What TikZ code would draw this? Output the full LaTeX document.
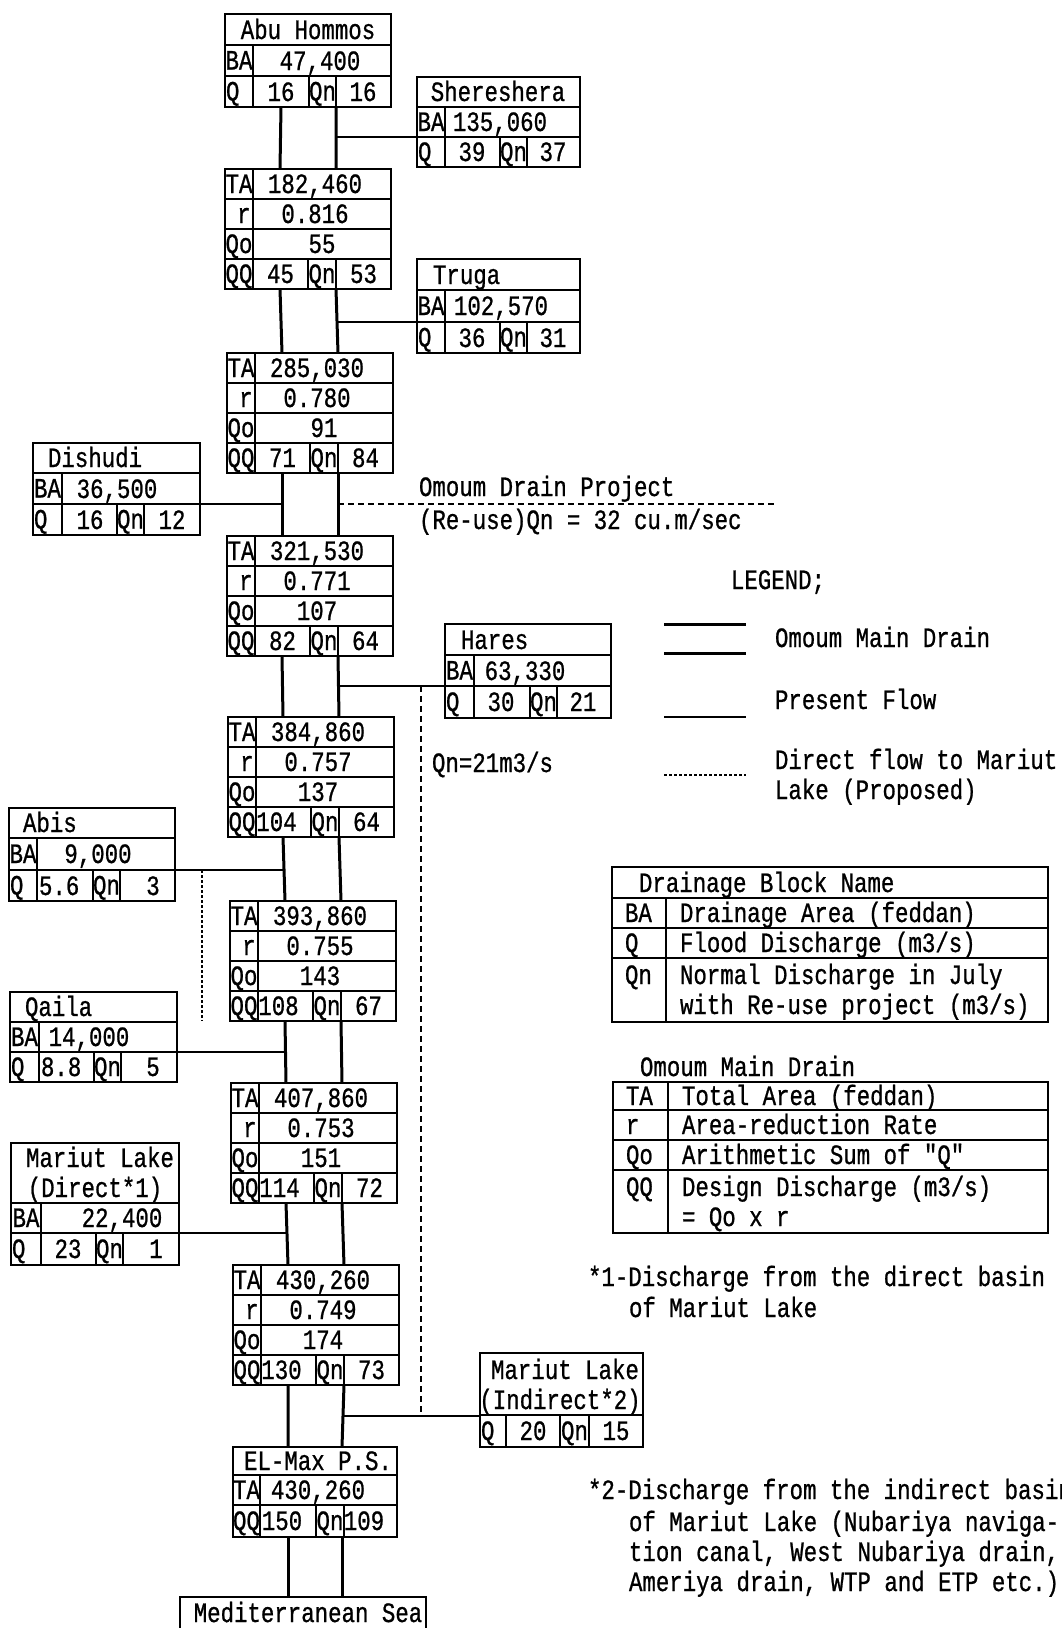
\documentclass[tikz,border=0pt]{standalone}
\usepackage{fontspec}
\newfontfamily\mfont{Liberation Mono}[FakeStretch=0.8, FakeBold=0.8]
\tikzset{
  every node/.style={font=\mfont\fontsize{28}{30}\selectfont},
  txt/.style={inner sep=0pt, outer sep=0pt, text height=18pt, text depth=0pt, anchor=center},
  txtw/.style={txt, anchor=west},
  mbox/.style={draw, line width=1.5pt, inner sep=0pt, outer sep=0pt, anchor=north west},
  bbox/.style={draw, line width=2.6pt, inner sep=0pt, outer sep=0pt, anchor=north west},
  tbox/.style={draw, line width=2.2pt, inner sep=0pt, outer sep=0pt, anchor=north west},
  gridl/.style={line width=1.1pt},
  mainline/.style={line width=3pt},
  flow/.style={line width=1.3pt},
  prop/.style={line width=1.2pt, dash pattern=on 6pt off 4pt},
  dotl/.style={line width=1.2pt, dash pattern=on 3pt off 2pt},
}
\newcommand{\mainbox}[8]{%
  \node[mbox, minimum width=166, minimum height=120] (#1) at (#2,#3) {};
  \draw[gridl] (#2,#3+30) -- (#2+166,#3+30) (#2,#3+60) -- (#2+166,#3+60)
    (#2,#3+90) -- (#2+166,#3+90) (#2+28,#3) -- (#2+28,#3+120)
    (#2+83,#3+90) -- (#2+83,#3+120) (#2+111,#3+90) -- (#2+111,#3+120);
  \node[txt] (#1-tal) at ({#2+14},{#3+15}) {TA};
  \node[txt] (#1-tav) at ({#2+90},{#3+15}) {#4};
  \node[txt] (#1-rl) at ({#2+19},{#3+45}) {r};
  \node[txt] (#1-rv) at ({#2+90},{#3+45}) {#5};
  \node[txt] (#1-qol) at ({#2+14},{#3+75}) {Qo};
  \node[txt] (#1-qov) at ({#2+97+\qoS},{#3+75}) {#6};
  \node[txt] (#1-qql) at ({#2+14},{#3+105}) {QQ};
  \node[txt] (#1-qqv) at ({#2+55.5+\qqS},{#3+105}) {#7};
  \node[txt] (#1-qnl) at ({#2+97},{#3+105}) {Qn};
  \node[txt] (#1-qnv) at ({#2+138.5},{#3+105}) {#8};
  \coordinate (#1-iL) at ({#2+55},{#3});
  \coordinate (#1-iR) at ({#2+111},{#3});
  \coordinate (#1-oL) at ({#2+55},{#3+120});
  \coordinate (#1-oR) at ({#2+111},{#3+120});
}
\newcommand{\branch}[9]{%
  \node[bbox, minimum width={#3-#2}, minimum height={#7-#4}] (#1) at (#2,#4) {};
  \draw[gridl] (#2,#5) -- (#3,#5) (#2,#6) -- (#3,#6) (#8,#5) -- (#8,#7)
    (#9,#6) -- (#9,#7) ({#9+27},#6) -- ({#9+27},#7);
  \node[txt] (#1-bal) at ({(#2+#8)/2},{(#5+#6)/2}) {BA};
  \node[txtw] (#1-ql) at ({#2+1},{(#6+#7)/2}) {Q};
  \node[txt] (#1-qnl) at ({#9+13.5},{(#6+#7)/2}) {Qn};
}
\begin{document}
\begin{tikzpicture}[x=1pt,y=-1pt]
\useasboundingbox (0,0) rectangle (1062,1628);
\fill[white] (0,0) rectangle (1062,1628);

% ---------- branch boxes ----------
\branch{ah}{225}{391}{14}{45}{76}{107}{253}{309}
\node[txt] (ah-t) at (308,30) {Abu Hommos};
\node[txt] (ah-ba) at (320,61) {47,400};
\node[txt] (ah-q) at (281,92) {16};
\node[txt] (ah-qn) at (363,92) {16};
\coordinate (ah-oL) at (281,107);
\coordinate (ah-oR) at (336,107);

\branch{sher}{417}{580}{77}{107}{137}{167}{445}{500}
\node[txt] (sher-t) at (498,92) {Shereshera};
\node[txt] (sher-ba) at (500,122) {135,060};
\node[txt] (sher-q) at (472,152) {39};
\node[txt] (sher-qn) at (553,152) {37};

\branch{tru}{417}{580}{259}{290}{322}{353}{445}{500}
\node[txtw] (tru-t) at (433,275) {Truga};
\node[txt] (tru-ba) at (501,306) {102,570};
\node[txt] (tru-q) at (472,338) {36};
\node[txt] (tru-qn) at (553,338) {31};

\branch{dis}{33}{200}{443}{473}{504}{535}{62}{117}
\node[txtw] (dis-t) at (48,458) {Dishudi};
\node[txt] (dis-ba) at (117,489) {36,500};
\node[txt] (dis-q) at (90,520) {16};
\node[txt] (dis-qn) at (172,520) {12};

\branch{har}{445}{611}{624}{655}{686}{718}{474}{530}
\node[txtw] (har-t) at (461,640) {Hares};
\node[txt] (har-ba) at (525,671) {63,330};
\node[txt] (har-q) at (501,702) {30};
\node[txt] (har-qn) at (583,702) {21};

\branch{abis}{9}{175}{808}{838}{870}{901}{37}{93}
\node[txtw] (abis-t) at (23,823) {Abis};
\node[txt] (abis-ba) at (98,854) {9,000};
\node[txtw] (abis-q) at (39,886) {5.6};
\node[txt] (abis-qn) at (153,886) {3};

\branch{qai}{10}{177}{992}{1022}{1052}{1082}{39}{94}
\node[txtw] (qai-t) at (25,1007) {Qaila};
\node[txt] (qai-ba) at (89,1037) {14,000};
\node[txtw] (qai-q) at (41,1067) {8.8};
\node[txt] (qai-qn) at (153,1067) {5};

\branch{mld}{11}{179}{1143}{1203}{1233}{1265}{41}{96}
\node[txt] (mld-t1) at (100,1158) {Mariut Lake};
\node[txt] (mld-t2) at (95,1188) {(Direct*1)};
\node[txt] (mld-ba) at (122,1218) {22,400};
\node[txt] (mld-q) at (68,1249) {23};
\node[txt] (mld-qn) at (156,1249) {1};

% Mariut Lake indirect
\node[bbox, minimum width=163, minimum height=94] (ind) at (480,1353) {};
\draw[gridl] (480,1415) -- (643,1415) (506,1415) -- (506,1447) (560,1415) -- (560,1447) (589,1415) -- (589,1447);
\node[txt] (ind-t1) at (565,1370) {Mariut Lake};
\node[txt] (ind-t2) at (560,1400) {(Indirect*2)};
\node[txtw] (ind-ql) at (481,1431) {Q};
\node[txt] (ind-q) at (533,1431) {20};
\node[txt] (ind-qnl) at (574.5,1431) {Qn};
\node[txt] (ind-qn) at (616,1431) {15};

% ---------- main drain boxes ----------
\def\qoS{0}\def\qqS{0}
\mainbox{b1}{225}{169}{182,460}{0.816}{55}{45}{53}
\mainbox{b2}{227}{353}{285,030}{0.780}{91}{71}{84}
\def\qoS{-7}
\mainbox{b3}{227}{536}{321,530}{0.771}{107}{82}{64}
\def\qqS{-7}
\mainbox{b4}{228}{717}{384,860}{0.757}{137}{104}{64}
\mainbox{b5}{230}{901}{393,860}{0.755}{143}{108}{67}
\mainbox{b6}{231}{1083}{407,860}{0.753}{151}{114}{72}
\mainbox{b7}{233}{1265}{430,260}{0.749}{174}{130}{73}

% EL-Max P.S.
\node[tbox, line width=1.8pt, minimum width=164, minimum height=90] (el) at (233,1447) {};
\draw[gridl] (233,1475) -- (397,1475) (233,1505) -- (397,1505) (260,1475) -- (260,1537)
  (316,1505) -- (316,1537) (344,1505) -- (344,1537);
\node[txt] (el-t) at (318,1461) {EL-Max P.S.};
\node[txt] (el-tal) at (246.5,1490) {TA};
\node[txt] (el-tav) at (318,1490) {430,260};
\node[txt] (el-qql) at (246.5,1521) {QQ};
\node[txt] (el-qqv) at (282,1521) {150};
\node[txt] (el-qnl) at (330,1521) {Qn};
\node[txt] (el-qnv) at (364,1521) {109};
\coordinate (el-iL) at (288,1447); \coordinate (el-iR) at (342,1447);
\coordinate (el-oL) at (288,1537); \coordinate (el-oR) at (342,1537);

% Mediterranean Sea
\node[tbox, line width=1.8pt, minimum width=246, minimum height=45] (med) at (180,1597) {};
\node[txt] (med-t) at (308,1613) {Mediterranean Sea};
\coordinate (med-iL) at (288,1597); \coordinate (med-iR) at (342,1597);

% ---------- main drain lines ----------
\draw[mainline] (ah-oL) -- (b1-iL) (ah-oR) -- (b1-iR);
\draw[mainline] (b1-oL) -- (b2-iL) (b1-oR) -- (b2-iR);
\draw[mainline] (b2-oL) -- (b3-iL) (b2-oR) -- (b3-iR);
\draw[mainline] (b3-oL) -- (b4-iL) (b3-oR) -- (b4-iR);
\draw[mainline] (b4-oL) -- (b5-iL) (b4-oR) -- (b5-iR);
\draw[mainline] (b5-oL) -- (b6-iL) (b5-oR) -- (b6-iR);
\draw[mainline] (b6-oL) -- (b7-iL) (b6-oR) -- (b7-iR);
\draw[mainline] (b7-oL) -- (el-iL) (b7-oR) -- (el-iR);
\draw[mainline] (el-oL) -- (med-iL) (el-oR) -- (med-iR);

% ---------- present flow connectors ----------
\coordinate (sher-w) at (417,137);
\coordinate (tru-w) at (417,322);
\coordinate (dis-e) at (200,504);
\coordinate (har-w) at (445,686);
\coordinate (abis-e) at (175,870);
\coordinate (qai-e) at (177,1052);
\coordinate (mld-e) at (179,1233);
\coordinate (ind-w) at (480,1416);
\draw[flow] (sher-w) -- (sher-w -| b1-iR);
\draw[flow] (tru-w) -- (tru-w -| b2-iR);
\draw[flow] (dis-e) -- (dis-e -| b3-iL);
\draw[flow] (har-w) -- (har-w -| b4-iR);
\draw[flow] (abis-e) -- (abis-e -| b5-iL);
\draw[flow] (qai-e) -- (qai-e -| b6-iL);
\draw[flow] (mld-e) -- (mld-e -| b7-iL);
\draw[flow] (ind-w) -- (ind-w -| el-iR);

% ---------- proposed / project dashed lines ----------
\coordinate (odp-end) at (775,504);
\draw[prop] (dis-e -| b3-iR) -- (odp-end);
\coordinate (hd-top) at (421,686);
\coordinate (hd-bot) at (421,1416);
\draw[prop] (hd-top) -- (hd-bot);
\coordinate (ad-top) at (202,870);
\coordinate (ad-bot) at (202,1021);
\draw[dotl] (ad-top) -- (ad-bot);

\node[txtw] (odp1) at (419,487) {Omoum Drain Project};
\node[txtw] (odp2) at (419,520) {(Re-use)Qn = 32 cu.m/sec};
\node[txtw] (qn21) at (432,763) {Qn=21m3/s};

% ---------- legend ----------
\node[txt] (leg) at (778,580) {LEGEND;};
\draw[mainline] (664,624) -- (746,624) (664,653) -- (746,653);
\draw[flow] (664,717) -- (746,717);
\draw[dotl] (664,775) -- (746,775);
\node[txtw] (leg1) at (775,638) {Omoum Main Drain};
\node[txtw] (leg2) at (775,700) {Present Flow};
\node[txtw] (leg3a) at (775,760) {Direct flow to Mariut};
\node[txtw] (leg3b) at (775,790) {Lake (Proposed)};

% table 1
\node[tbox, minimum width=436, minimum height=155] (t1) at (612,867) {};
\draw[gridl] (612,898) -- (1048,898) (612,928) -- (1048,928) (612,958) -- (1048,958) (666,898) -- (666,1022);
\node[txtw] (t1-h) at (639,883) {Drainage Block Name};
\node[txtw] (t1-l1) at (625,913) {BA};
\node[txtw] (t1-v1) at (680,913) {Drainage Area (feddan)};
\node[txtw] (t1-l2) at (625,943) {Q};
\node[txtw] (t1-v2) at (680,943) {Flood Discharge (m3/s)};
\node[txtw] (t1-l3) at (625,975) {Qn};
\node[txtw] (t1-v3) at (680,975) {Normal Discharge in July};
\node[txtw] (t1-v4) at (680,1005) {with Re-use project (m3/s)};

% table 2
\node[txtw] (t2-h) at (640,1067) {Omoum Main Drain};
\node[tbox, minimum width=435, minimum height=151] (t2) at (613,1082) {};
\draw[gridl] (613,1110) -- (1048,1110) (613,1140) -- (1048,1140) (613,1170) -- (1048,1170) (668,1082) -- (668,1233);
\node[txtw] (t2-l1) at (626,1096) {TA};
\node[txtw] (t2-v1) at (682,1096) {Total Area (feddan)};
\node[txtw] (t2-l2) at (626,1125) {r};
\node[txtw] (t2-v2) at (682,1125) {Area-reduction Rate};
\node[txtw] (t2-l3) at (626,1155) {Qo};
\node[txtw] (t2-v3) at (682,1155) {Arithmetic Sum of "Q"};
\node[txtw] (t2-l4) at (626,1187) {QQ};
\node[txtw] (t2-v4) at (682,1187) {Design Discharge (m3/s)};
\node[txtw] (t2-v5) at (682,1217) {= Qo x r};

% footnotes
\node[txtw] (fn1a) at (588,1277) {*1-Discharge from the direct basin};
\node[txtw] (fn1b) at (629,1308) {of Mariut Lake};
\node[txtw] (fn2a) at (588,1490) {*2-Discharge from the indirect basin};
\node[txtw] (fn2b) at (629,1522) {of Mariut Lake (Nubariya naviga-};
\node[txtw] (fn2c) at (629,1552) {tion canal, West Nubariya drain,};
\node[txtw] (fn2d) at (629,1582) {Ameriya drain, WTP and ETP etc.)};
\end{tikzpicture}
\end{document}
